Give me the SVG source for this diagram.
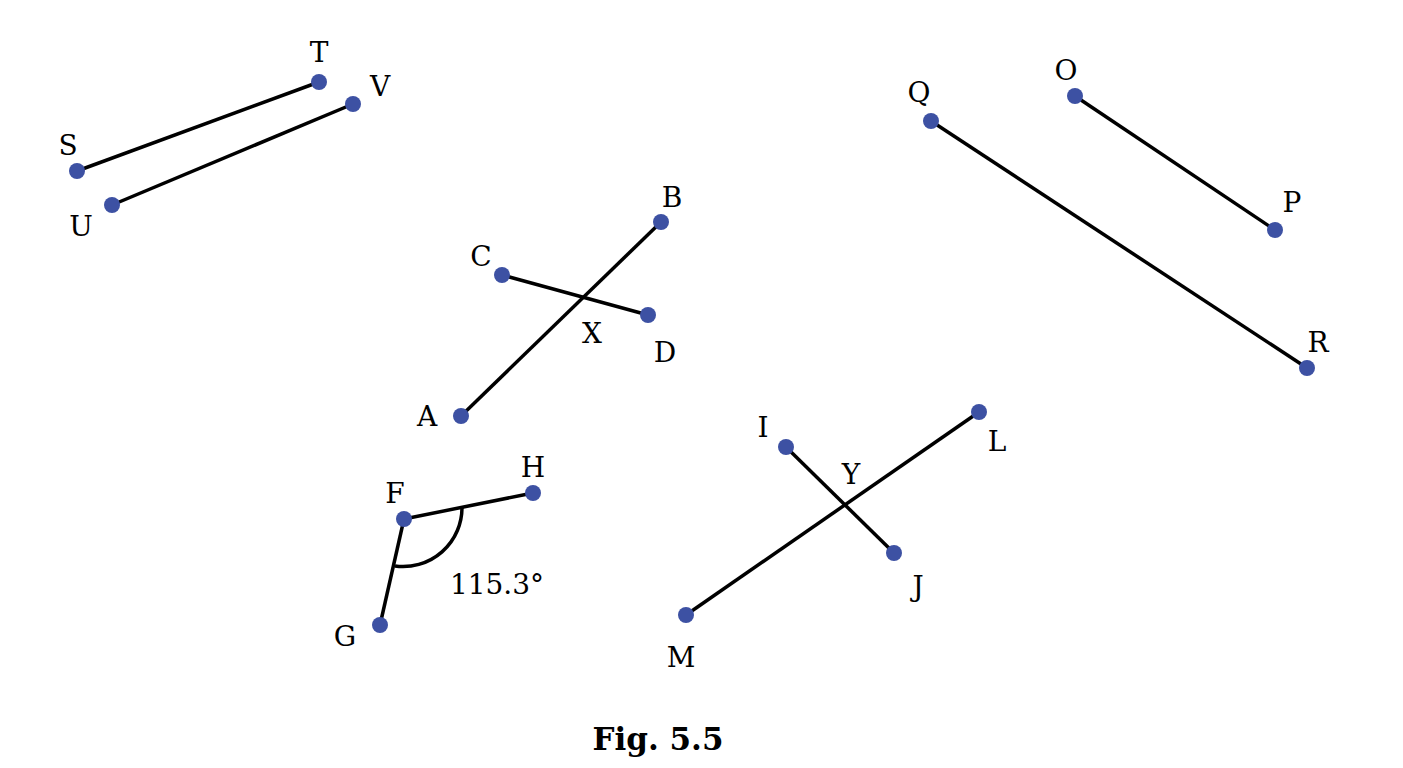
<svg xmlns="http://www.w3.org/2000/svg" width="1403" height="768" viewBox="0 0 1403 768">
<style>
.l{stroke:#000;stroke-width:3.5;fill:none}
.p{fill:#3d51a3}
text{font-family:"DejaVu Serif","Liberation Serif",serif;font-size:28px;fill:#000;text-anchor:middle}
.c{font-size:28px}
.f{font-weight:bold;font-size:31px}
</style>
<rect width="1403" height="768" fill="#fff"/>
<g id="connectors">
<line class="l" x1="77" y1="171" x2="319" y2="82"/>
<line class="l" x1="112" y1="205" x2="353" y2="104"/>
<line class="l" x1="461" y1="416" x2="661" y2="222"/>
<line class="l" x1="502" y1="275" x2="648" y2="315"/>
<line class="l" x1="931" y1="121" x2="1307" y2="368"/>
<line class="l" x1="1075" y1="96" x2="1275" y2="230"/>
<line class="l" x1="786" y1="447" x2="894" y2="553"/>
<line class="l" x1="686" y1="615" x2="979" y2="412"/>
<line class="l" x1="404" y1="519" x2="533" y2="493"/>
<line class="l" x1="404" y1="519" x2="380" y2="625"/>
<path class="l" d="M462 507 A59 59 0 0 1 395 566"/>
</g>
<g id="ST"><circle class="p" cx="77" cy="171" r="8"/><circle class="p" cx="319" cy="82" r="8"/><text x="68" y="155">S</text><text x="319" y="62">T</text></g>
<g id="UV"><circle class="p" cx="112" cy="205" r="8"/><circle class="p" cx="353" cy="104" r="8"/><text x="81" y="236">U</text><text x="380" y="96">V</text></g>
<g id="AB"><circle class="p" cx="461" cy="416" r="8"/><circle class="p" cx="661" cy="222" r="8"/><text x="427" y="426">A</text><text x="672" y="207">B</text></g>
<g id="CD"><circle class="p" cx="502" cy="275" r="8"/><circle class="p" cx="648" cy="315" r="8"/><text x="481" y="266">C</text><text x="665" y="362">D</text><text x="592" y="343">X</text></g>
<g id="QR"><circle class="p" cx="931" cy="121" r="8"/><circle class="p" cx="1307" cy="368" r="8"/><text x="919" y="102">Q</text><text x="1318" y="352">R</text></g>
<g id="OP"><circle class="p" cx="1075" cy="96" r="8"/><circle class="p" cx="1275" cy="230" r="8"/><text x="1066" y="80">O</text><text x="1292" y="212">P</text></g>
<g id="IJ"><circle class="p" cx="786" cy="447" r="8"/><circle class="p" cx="894" cy="553" r="8"/><text x="763" y="437">I</text><text x="918" y="596">J</text></g>
<g id="LM"><circle class="p" cx="979" cy="412" r="8"/><circle class="p" cx="686" cy="615" r="8"/><text x="997" y="451">L</text><text x="681" y="667">M</text><text x="851" y="484">Y</text></g>
<g id="FGH"><circle class="p" cx="404" cy="519" r="8"/><circle class="p" cx="533" cy="493" r="8"/><circle class="p" cx="380" cy="625" r="8"/><text x="395" y="503">F</text><text x="533" y="477">H</text><text x="345" y="646">G</text><text class="c" x="497" y="594">115.3°</text></g>
<text class="f" x="658" y="750">Fig. 5.5</text>
</svg>
